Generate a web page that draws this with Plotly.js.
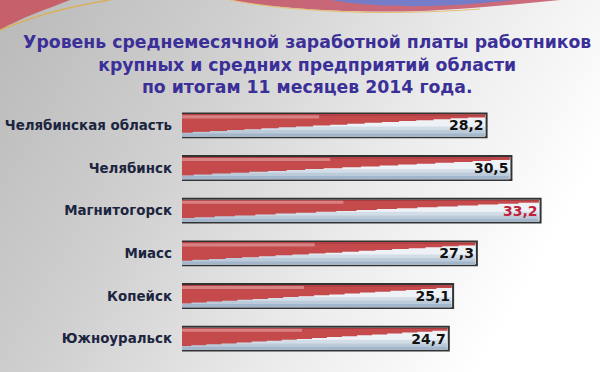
<!DOCTYPE html>
<html>
<head>
<meta charset="utf-8">
<script src="https://cdn.plot.ly/plotly-3.0.1.min.js"></script>
<style>
  html, body { margin:0; padding:0; }
  body { width:600px; height:372px; overflow:hidden; position:relative;
    background: linear-gradient(120deg, #b9b9b9 0%, #cfcfcf 30%, #ececec 60%, #ffffff 85%); }
  #deco { position:absolute; left:0; top:0; width:600px; height:40px; }
  #chart { position:absolute; left:0; top:0; width:600px; height:372px; }
</style>
</head>
<body>
<svg id="deco" width="600" height="40" viewBox="0 0 600 40">
  <path d="M0,0 L70,0 C50,8 20,18 0,30 Z" fill="#c8505a" opacity="0.85"/>
  <path d="M0,30 C30,18 60,8 110,0" stroke="#d8b060" stroke-width="1.5" fill="none"/>
  <path d="M230,0 C280,10 380,14 440,10 C480,8 520,4 560,0 Z" fill="#c34a5e" opacity="0.8"/>
  <path d="M330,0 C380,8 430,7 470,4 C490,2 505,1 515,0 Z" fill="#6d7fd0" opacity="0.9"/>
  <path d="M230,0 C290,12 390,16 480,9" stroke="#e2c07a" stroke-width="1.2" fill="none"/>
</svg>
<div id="chart"></div>
<script>
const categories = ["Челябинская область", "Челябинск", "Магнитогорск", "Миасс", "Копейск", "Южноуральск"];
const values = [28.2, 30.5, 33.2, 27.3, 25.1, 24.7];
const valueLabels = ["28,2", "30,5", "33,2", "27,3", "25,1", "24,7"];
const labelColors = ["#111111", "#111111", "#c0223a", "#111111", "#111111", "#111111"];

const BAR_W = 0.56;          // bar thickness (category units)
const TOP_OFF = -BAR_W / 2;  // top edge offset (axis reversed: larger = lower)

function layer(frac, offFrac, widthFrac, color) {
  return {
    type: 'bar', orientation: 'h',
    y: categories,
    x: values.map(v => v * frac),
    offset: TOP_OFF + BAR_W * offFrac,
    width: BAR_W * widthFrac,
    marker: { color: color, line: { width: 0 } },
    hoverinfo: 'skip', showlegend: false
  };
}

const traces = [];
traces.push({
  type: 'bar', orientation: 'h',
  y: categories, x: values,
  width: BAR_W,
  marker: { color: '#eef2f6', line: { color: '#333333', width: 2 } },
  hoverinfo: 'skip', showlegend: false
});
traces.push(layer(0.994, 0.55, 0.42, '#d2dde8'));
traces.push(layer(0.994, 0.70, 0.27, '#bccbda'));
traces.push(layer(0.994, 0.84, 0.13, '#a3b6ca'));
const N = 18;
for (let i = 0; i < N; i++) {
  const t = i / (N - 1);
  const frac = 0.995 - 0.96 * t;
  const wf = 0.12 + 0.64 * t;
  traces.push(layer(frac, 0.05, wf, '#c44a4c'));
}
traces.push(layer(0.995, 0.05, 0.05, '#a83c40'));
traces.push(layer(0.45, 0.08, 0.13, '#d88284'));
traces.push({
  type: 'bar', orientation: 'h',
  y: categories, x: values,
  width: BAR_W,
  marker: { color: 'rgba(0,0,0,0)', line: { width: 0 } },
  text: valueLabels.map(s => '<b>' + s + '</b>'),
  textposition: 'inside',
  insidetextanchor: 'end',
  constraintext: 'none',
  textfont: { family: 'DejaVu Sans, sans-serif', size: 14, color: labelColors },
  hoverinfo: 'skip', showlegend: false
});

const layout = {
  width: 600, height: 372,
  margin: { l: 182, r: 0, t: 104, b: 12 },
  paper_bgcolor: 'rgba(0,0,0,0)',
  plot_bgcolor: 'rgba(0,0,0,0)',
  barmode: 'overlay',
  showlegend: false,
  title: {
    text: '<b>Уровень среднемесячной заработной платы работников<br>крупных и средних предприятий области<br>по итогам 11 месяцев 2014 года.</b>',
    font: { family: 'DejaVu Sans, sans-serif', size: 17.3, color: '#3b2f98' },
    x: 0.512, xref: 'container', xanchor: 'center',
    y: 0.87, yref: 'container', yanchor: 'middle'
  },
  xaxis: { range: [0, 38.7], visible: false, fixedrange: true },
  yaxis: {
    autorange: 'reversed',
    tickmode: 'array',
    tickvals: categories,
    ticktext: categories.map(c => '<b>' + c + '</b>'),
    showgrid: false, zeroline: false, showline: false, ticks: '',
    ticklabelstandoff: 9,
    tickfont: { family: 'DejaVu Sans, sans-serif', size: 13.4, color: '#1c2540' }
  }
};

Plotly.newPlot('chart', traces, layout, { displayModeBar: false, staticPlot: true });
</script>
</body>
</html>
